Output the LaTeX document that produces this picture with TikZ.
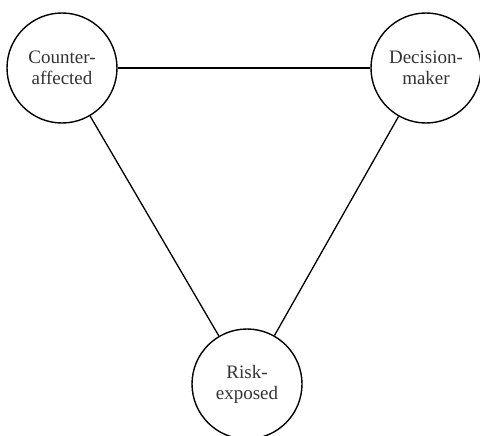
\documentclass[tikz,border=0pt]{standalone}
\usepackage{fontspec}
\setmainfont{Liberation Serif}
\begin{document}
\begin{tikzpicture}[x=1pt,y=-1pt,
  party/.style={circle, draw=black, line width=1.4pt, minimum size=110pt, inner sep=0pt,
    align=center, text=black!80, font=\fontsize{19}{21}\selectfont},
  tie/.style={draw=black, line width=1.3pt}]
  \useasboundingbox (0,0) rectangle (480,436);
  \node[party] (ca) at (62,68) {Counter-\\affected};
  \node[party] (dm) at (426,68) {Decision-\\maker};
  \node[party] (re) at (247,384) {Risk-\\exposed};
  \draw[tie] (ca) -- (dm);
  \draw[tie] (ca) -- (re);
  \draw[tie] (dm) -- (re);
\end{tikzpicture}
\end{document}
